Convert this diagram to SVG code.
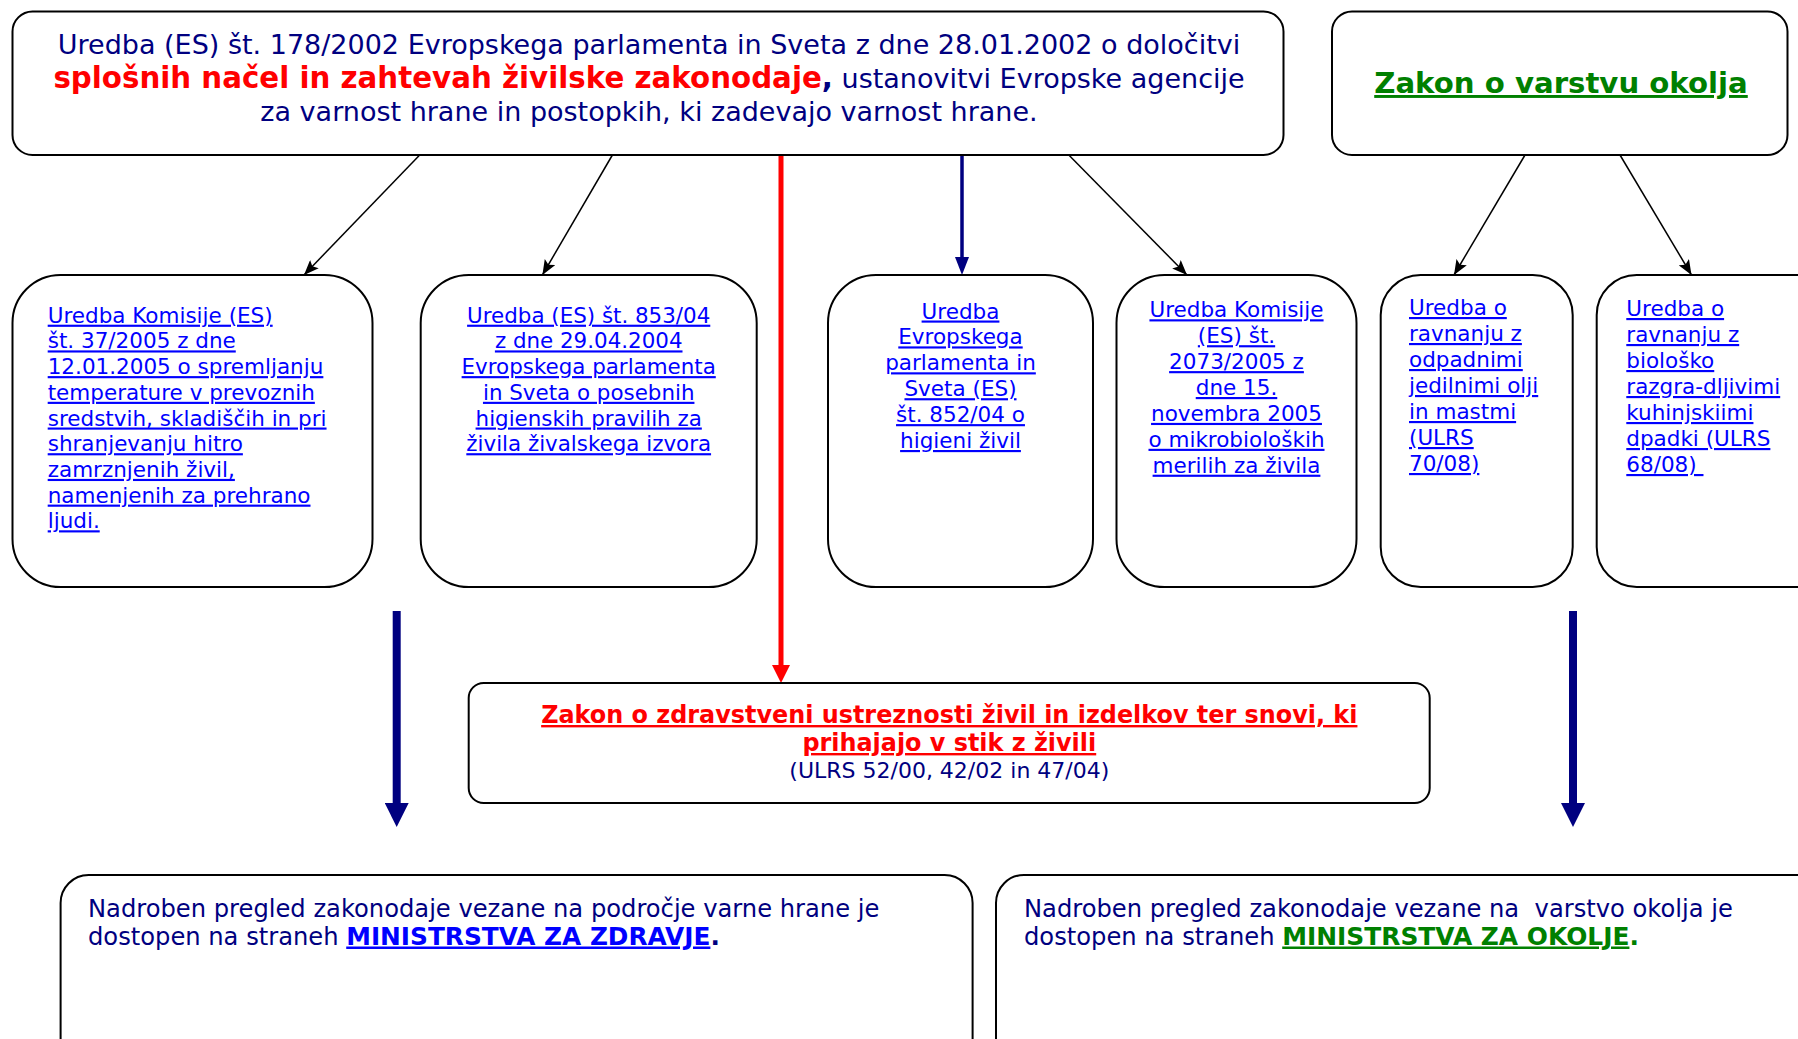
<svg xmlns="http://www.w3.org/2000/svg" width="1798" height="1039" viewBox="0 0 1798 1039">
<style>
.box{fill:#fff;stroke:#000;stroke-width:2}
.t{font-family:"DejaVu Sans","Verdana",sans-serif}
.navy{fill:#000080}
.red{fill:#ff0000;font-weight:bold}
.lnk{fill:#0000ff;text-decoration:underline}
.grn{fill:#008000;font-weight:bold;text-decoration:underline}
.b{font-weight:bold}
.thin{stroke:#000;stroke-width:1.5;fill:none}
</style>
<defs>
<marker id="ahBlack" markerUnits="userSpaceOnUse" markerWidth="16" markerHeight="12" refX="15" refY="6" orient="auto"><path d="M0,0 L15,6 L0,12 L3,6 z" fill="#000"/></marker>
<marker id="ahNavy" markerUnits="userSpaceOnUse" markerWidth="18" markerHeight="14" refX="0" refY="7" orient="auto"><path d="M0,0 L18,7 L0,14 z" fill="#000080"/></marker>
<marker id="ahRed" markerUnits="userSpaceOnUse" markerWidth="18" markerHeight="18" refX="0" refY="9" orient="auto"><path d="M0,0 L18,9 L0,18 z" fill="#ff0000"/></marker>
<marker id="ahBig" markerUnits="userSpaceOnUse" markerWidth="24" markerHeight="24" refX="0" refY="12" orient="auto"><path d="M0,0 L24,12 L0,24 z" fill="#000080"/></marker>
</defs>

<g id="connectors">
<line class="thin" x1="419.7" y1="155" x2="304" y2="275" marker-end="url(#ahBlack)"/>
<line class="thin" x1="612.4" y1="155" x2="542.4" y2="275" marker-end="url(#ahBlack)"/>
<line x1="781" y1="155" x2="781" y2="665" stroke="#ff0000" stroke-width="5" marker-end="url(#ahRed)"/>
<line x1="962" y1="155" x2="962" y2="257" stroke="#000080" stroke-width="3.5" marker-end="url(#ahNavy)"/>
<line class="thin" x1="1068.8" y1="155" x2="1187" y2="275" marker-end="url(#ahBlack)"/>
<line class="thin" x1="1525" y1="155" x2="1454" y2="275" marker-end="url(#ahBlack)"/>
<line class="thin" x1="1620" y1="155" x2="1691.5" y2="275" marker-end="url(#ahBlack)"/>
<line x1="396.7" y1="611" x2="396.7" y2="803" stroke="#000080" stroke-width="8" marker-end="url(#ahBig)"/>
<line x1="1573" y1="611" x2="1573" y2="803" stroke="#000080" stroke-width="8" marker-end="url(#ahBig)"/>
</g>

<g id="n-uredba178">
<rect class="box" x="12.5" y="11.5" width="1271" height="143.5" rx="20"/>
<text class="t navy" font-size="27" text-anchor="middle"><tspan x="649" y="54">Uredba (ES) št. 178/2002 Evropskega parlamenta in Sveta z dne 28.01.2002 o določitvi</tspan><tspan x="649" y="88"><tspan class="red" font-size="29.3">splošnih načel in zahtevah živilske zakonodaje</tspan><tspan class="b" font-size="29.3">,</tspan> ustanovitvi Evropske agencije</tspan><tspan x="649" y="121">za varnost hrane in postopkih, ki zadevajo varnost hrane.</tspan></text>
</g>

<g id="n-zakon-okolje">
<rect class="box" x="1332" y="11.5" width="455.5" height="143.5" rx="20"/>
<text class="t grn" font-size="29.2" text-anchor="middle" x="1561" y="93">Zakon o varstvu okolja</text>
</g>

<g id="n-uredba37">
<rect class="box" x="12.5" y="275" width="360" height="312" rx="48"/>
<text class="t lnk" font-size="21.5"><tspan x="47.7" y="322.7">Uredba Komisije (ES)</tspan><tspan x="47.7" dy="25.7">št. 37/2005 z dne</tspan><tspan x="47.7" dy="25.7">12.01.2005 o spremljanju</tspan><tspan x="47.7" dy="25.7">temperature v prevoznih</tspan><tspan x="47.7" dy="25.7">sredstvih, skladiščih in pri</tspan><tspan x="47.7" dy="25.7">shranjevanju hitro</tspan><tspan x="47.7" dy="25.7">zamrznjenih živil,</tspan><tspan x="47.7" dy="25.7">namenjenih za prehrano</tspan><tspan x="47.7" dy="25.7">ljudi.</tspan></text>
</g>

<g id="n-uredba853">
<rect class="box" x="420.7" y="275" width="336" height="312" rx="48"/>
<text class="t lnk" font-size="21.4" text-anchor="middle"><tspan x="588.7" y="322.7">Uredba (ES) št. 853/04</tspan><tspan x="588.7" dy="25.7">z dne 29.04.2004</tspan><tspan x="588.7" dy="25.7">Evropskega parlamenta</tspan><tspan x="588.7" dy="25.7">in Sveta o posebnih</tspan><tspan x="588.7" dy="25.7">higienskih pravilih za</tspan><tspan x="588.7" dy="25.7">živila živalskega izvora</tspan></text>
</g>

<g id="n-uredba852">
<rect class="box" x="828" y="275" width="265" height="312" rx="48"/>
<text class="t lnk" font-size="21.5" text-anchor="middle"><tspan x="960.5" y="318.5">Uredba</tspan><tspan x="960.5" dy="25.9">Evropskega</tspan><tspan x="960.5" dy="25.9">parlamenta in</tspan><tspan x="960.5" dy="25.9">Sveta (ES)</tspan><tspan x="960.5" dy="25.9">št. 852/04 o</tspan><tspan x="960.5" dy="25.9">higieni živil</tspan></text>
</g>

<g id="n-uredba2073">
<rect class="box" x="1116.5" y="275" width="240" height="312" rx="48"/>
<text class="t lnk" font-size="21.5" text-anchor="middle"><tspan x="1236.5" y="317.3">Uredba Komisije</tspan><tspan x="1236.5" dy="25.9">(ES) št.</tspan><tspan x="1236.5" dy="25.9">2073/2005 z</tspan><tspan x="1236.5" dy="25.9">dne 15.</tspan><tspan x="1236.5" dy="25.9">novembra 2005</tspan><tspan x="1236.5" dy="25.9">o mikrobioloških</tspan><tspan x="1236.5" dy="25.9">merilih za živila</tspan></text>
</g>

<g id="n-uredba-olja">
<rect class="box" x="1380.7" y="275" width="192" height="312" rx="40"/>
<text class="t lnk" font-size="21.5"><tspan x="1409" y="315">Uredba o</tspan><tspan x="1409" dy="26">ravnanju z</tspan><tspan x="1409" dy="26">odpadnimi</tspan><tspan x="1409" dy="26">jedilnimi olji</tspan><tspan x="1409" dy="26">in mastmi</tspan><tspan x="1409" dy="26">(ULRS</tspan><tspan x="1409" dy="26">70/08)</tspan></text>
</g>

<g id="n-uredba-kuhinjski">
<rect class="box" x="1596.7" y="275" width="240" height="312" rx="40"/>
<text class="t lnk" font-size="21.5"><tspan x="1626.3" y="316">Uredba o</tspan><tspan x="1626.3" dy="26">ravnanju z</tspan><tspan x="1626.3" dy="26">biološko</tspan><tspan x="1626.3" dy="26">razgra-dljivimi</tspan><tspan x="1626.3" dy="26">kuhinjskiimi</tspan><tspan x="1626.3" dy="26">dpadki (ULRS</tspan><tspan x="1626.3" dy="26">68/08)&#160;</tspan></text>
</g>

<g id="n-zakon-zdravstveni">
<rect class="box" x="468.7" y="683" width="961" height="120" rx="15"/>
<text class="t red" font-size="23.9" text-anchor="middle" text-decoration="underline"><tspan x="949.3" y="723">Zakon o zdravstveni ustreznosti živil in izdelkov ter snovi, ki</tspan><tspan x="949.3" y="751">prihajajo v stik z živili</tspan></text>
<text class="t navy" font-size="22" text-anchor="middle" x="949.3" y="778">(ULRS 52/00, 42/02 in 47/04)</text>
</g>

<g id="n-pregled-zdravje">
<rect class="box" x="60.6" y="875" width="912" height="220" rx="28"/>
<text class="t navy" font-size="24.2"><tspan x="88" y="916.5">Nadroben pregled zakonodaje vezane na področje varne hrane je</tspan><tspan x="88" y="944.5">dostopen na straneh <tspan class="b" font-size="24.8" fill="#0000ff" text-decoration="underline">MINISTRSTVA ZA ZDRAVJE</tspan><tspan class="b" font-size="24.8">.</tspan></tspan></text>
</g>

<g id="n-pregled-okolje">
<rect class="box" x="996" y="875" width="860" height="220" rx="28"/>
<text class="t navy" font-size="24.2"><tspan x="1024" y="916.5">Nadroben pregled zakonodaje vezane na&#160; varstvo okolja je</tspan><tspan x="1024" y="944.5">dostopen na straneh <tspan class="grn" font-size="24.9">MINISTRSTVA ZA OKOLJE</tspan><tspan class="b" font-size="24.9" fill="#008000">.</tspan></tspan></text>
</g>
</svg>
